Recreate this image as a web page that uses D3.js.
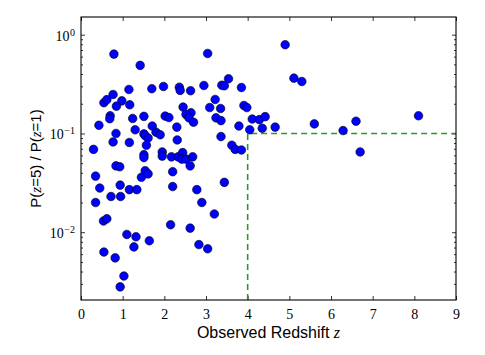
<!DOCTYPE html>
<html>
<head>
<meta charset="utf-8">
<script src="https://cdn.jsdelivr.net/npm/d3@7"></script>
<style>
  body { margin: 0; background: #fff; }
  .tick text { font-family: "Liberation Serif", serif; font-size: 14px; fill: #000; }
  .tick line { stroke: #000; stroke-width: 0.8px; }
  .domain { display: none; }
</style>
</head>
<body>
<svg id="chart" width="485" height="355"></svg>
<script>
// observed redshift of each source
const redshift = [0.79,1.42,3.04,4.90,3.54,1.15,1.70,1.98,2.36,2.38,
  2.63,2.95,3.38,3.44,3.85,5.11,5.30,0.77,0.55,0.62,
  0.98,0.85,1.17,2.45,2.64,2.52,2.59,2.70,3.22,3.09,
  3.35,3.91,3.98,3.24,3.36,0.70,0.69,1.24,1.51,2.02,
  2.11,0.43,1.30,1.71,2.30,3.79,4.05,4.11,4.28,4.42,
  4.35,4.66,5.60,6.29,6.60,6.70,8.10,0.84,1.51,1.54,
  1.61,1.80,1.90,0.77,1.16,1.57,2.31,3.36,0.30,1.51,
  1.51,1.95,1.95,2.17,2.33,2.44,2.42,2.52,2.68,3.62,
  3.70,3.85,0.84,0.93,2.62,0.35,1.45,1.54,1.61,2.20,
  0.45,0.94,1.16,1.34,2.20,2.78,0.72,0.95,0.35,2.90,
  3.44,3.20,0.54,0.62,1.10,1.32,1.64,2.15,2.62,1.27,
  0.55,0.82,1.03,0.94,2.83,3.04];

// P(z=5) / P(z=1)
const probRatio = [0.636,0.489,0.646,0.792,0.358,0.279,0.284,0.299,0.294,0.273,
  0.271,0.306,0.308,0.304,0.292,0.363,0.336,0.248,0.205,0.220,
  0.214,0.189,0.195,0.185,0.162,0.156,0.144,0.130,0.221,0.183,
  0.179,0.192,0.183,0.144,0.135,0.151,0.141,0.142,0.149,0.150,
  0.145,0.121,0.109,0.119,0.116,0.119,0.109,0.140,0.138,0.148,
  0.113,0.116,0.125,0.107,0.133,0.065,0.151,0.100,0.099,0.095,
  0.090,0.103,0.097,0.082,0.081,0.076,0.086,0.093,0.069,0.061,
  0.057,0.065,0.059,0.058,0.058,0.064,0.055,0.055,0.058,0.076,
  0.069,0.068,0.047,0.046,0.047,0.037,0.036,0.042,0.039,0.041,
  0.028,0.030,0.027,0.027,0.029,0.027,0.023,0.023,0.020,0.020,
  0.032,0.0153,0.0130,0.0137,0.0095,0.0090,0.0082,0.0119,0.0110,0.0071,
  0.0063,0.0055,0.0036,0.0028,0.0075,0.0068];

const xTicks = [0,1,2,3,4,5,6,7,8,9];
const yMajor = [1, 0.1, 0.01];
const yMajorLabels = ["0", "\u22121", "\u22122"];
const yMinor = [];
[0.001, 0.01, 0.1].forEach(d => { for (let m = 2; m <= 9; m++) yMinor.push(m * d); });

// cut lines
const zCut = 4;
const ratioCut = 0.1;

const mLeft = 81, mRight = 456, mTop = 17, mBottom = 300;

const svg = d3.select('#chart');

const x = d3.scaleLinear().domain([0, 9]).range([mLeft, mRight]);
const y = d3.scaleLog().domain([0.00206, 1.511]).range([mBottom, mTop]);
const yMinorIn = yMinor.filter(v => v > y.domain()[0] && v < y.domain()[1]);

// axes, ticks pointing inward
svg.append('g')
  .attr('transform', `translate(0,${mBottom})`)
  .call(d3.axisBottom(x).tickValues(xTicks).tickSize(-4).tickPadding(9).tickFormat(d3.format('d')));

svg.append('g')
  .attr('transform', `translate(0,${mTop})`)
  .call(d3.axisTop(x).tickValues(xTicks).tickSize(-4).tickFormat(''));

const yAxis = svg.append('g')
  .attr('transform', `translate(${mLeft},0)`)
  .call(d3.axisLeft(y).tickValues(yMajor).tickSize(-4).tickFormat(''));

yAxis.selectAll('.tick text').each(function(d, i) {
  const t = d3.select(this).attr('dy', '0.38em').attr('x', -6).attr('text-anchor', 'end');
  t.append('tspan').text('10');
  t.append('tspan').attr('dy', '-0.5em').attr('dx', '0.5px').style('font-size', '10px').text(yMajorLabels[i]);
});

svg.append('g')
  .attr('transform', `translate(${mLeft},0)`)
  .call(d3.axisLeft(y).tickValues(yMinorIn).tickSize(-2).tickFormat(''));

svg.append('g')
  .attr('transform', `translate(${mRight},0)`)
  .call(d3.axisRight(y).tickValues(yMajor).tickSize(-4).tickFormat(''));

svg.append('g')
  .attr('transform', `translate(${mRight},0)`)
  .call(d3.axisRight(y).tickValues(yMinorIn).tickSize(-2).tickFormat(''));

// dashed selection lines
const cutLine = d3.line().x(d => x(d[0])).y(d => y(d[1]));
svg.append('path')
  .attr('d', cutLine([[zCut, y.domain()[0]], [zCut, ratioCut], [9, ratioCut]]))
  .attr('fill', 'none')
  .attr('stroke', '#2a9a2a')
  .attr('stroke-width', 1.6)
  .attr('stroke-dasharray', '6,4');

// sources
svg.append('g')
  .selectAll('circle')
  .data(redshift.map((z, i) => ({z: z, p: probRatio[i]})))
  .enter().append('circle')
    .attr('cx', d => x(d.z))
    .attr('cy', d => y(d.p))
    .attr('r', 4.3)
    .attr('fill', '#0000ff')
    .attr('stroke', '#000')
    .attr('stroke-width', 0.6);

// frame
svg.append('rect')
  .attr('x', mLeft).attr('y', mTop)
  .attr('width', mRight - mLeft).attr('height', mBottom - mTop)
  .attr('fill', 'none').attr('stroke', '#000').attr('stroke-width', 1.1);

// axis labels
const xl = svg.append('text')
  .attr('x', (mLeft + mRight) / 2).attr('y', 338)
  .attr('text-anchor', 'middle')
  .style('font-family', '"Liberation Sans", Arial, sans-serif').style('font-size', '16px');
xl.append('tspan').text('Observed Redshift ');
xl.append('tspan').style('font-family', '"Liberation Serif", serif').style('font-style', 'italic').text('z');

const yl = svg.append('text')
  .attr('transform', `translate(41,${(mTop + mBottom) / 2}) rotate(-90)`)
  .attr('text-anchor', 'middle')
  .style('font-family', '"Liberation Sans", Arial, sans-serif').style('font-size', '15px');
yl.append('tspan').text('P(');
yl.append('tspan').style('font-family', '"Liberation Serif", serif').style('font-style', 'italic').text('z');
yl.append('tspan').text('=5) / P(');
yl.append('tspan').style('font-family', '"Liberation Serif", serif').style('font-style', 'italic').text('z');
yl.append('tspan').text('=1)');
</script>
</body>
</html>
